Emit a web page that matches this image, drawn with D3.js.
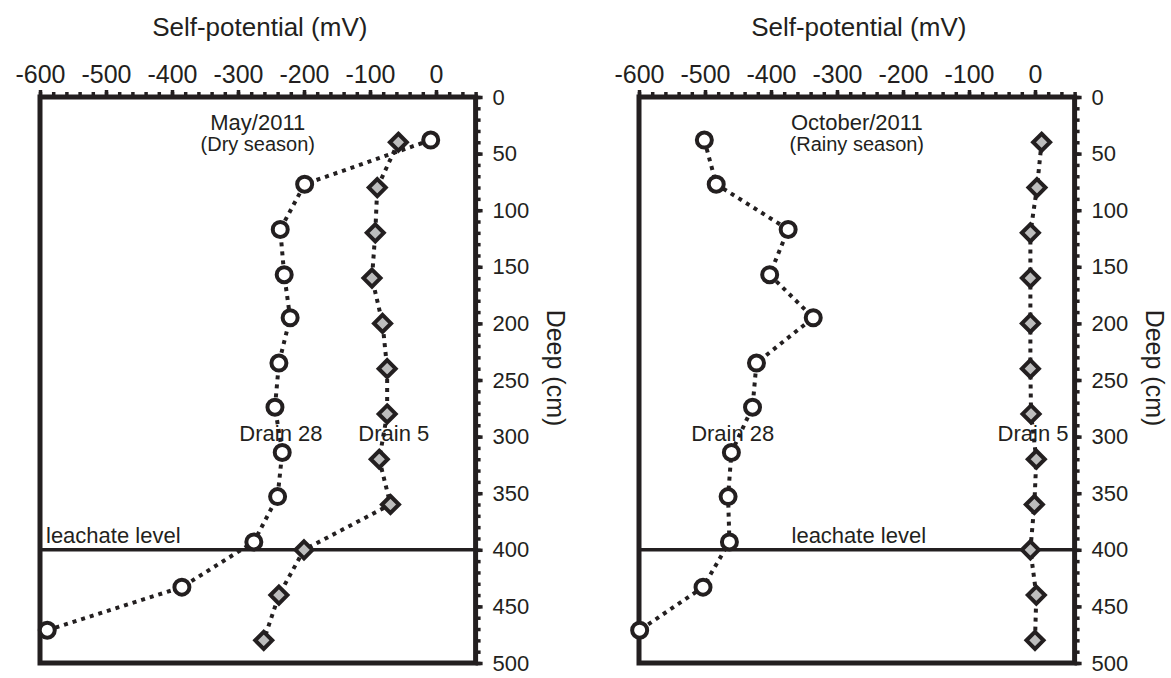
<!DOCTYPE html>
<html>
<head>
<meta charset="utf-8">
<script src="https://cdn.jsdelivr.net/npm/d3@7"></script>
<style>
  body { margin: 0; background: #fff; }
  text { font-family: "Liberation Sans", Arial, sans-serif; fill: #231f20; }
</style>
</head>
<body>
<svg id="chart" width="1171" height="678"></svg>
<script>
// depths (cm) of the readings
var depthDrain5 = [40, 80, 120, 160, 200, 240, 280, 320, 360, 400, 440, 480];
var depthDrain28 = [38, 77, 117, 157, 195, 235, 274, 314, 353, 393, 433, 471];
// self-potential (mV), May/2011
var dryDrain28 = [-8, -199, -236, -230, -221, -238, -244, -233, -240, -276, -385, -589];
var dryDrain5 = [-57, -89, -92, -97, -81, -74, -74, -86, -69, -200, -238, -261];
// self-potential (mV), October/2011
var rainyDrain28 = [-501, -483, -374, -402, -336, -422, -428, -460, -465, -463, -503, -599];
var rainyDrain5 = [10, 3, -7, -7, -7, -7, -6, 2, -1, -7, 2, 0];
// axis ticks
var spTicks = [-600, -500, -400, -300, -200, -100, 0];
var depthTicks = [0, 50, 100, 150, 200, 250, 300, 350, 400, 450, 500];
var leachateDepth = 400;

var ink = "#231f20";
var svg = d3.select("#chart");

var y = d3.scaleLinear().domain([0, 500]).range([97, 663]);

var panels = [
  { left: 40, title: "May/2011", season: "(Dry season)", d28: dryDrain28, d5: dryDrain5,
    lab28: -235, lab5: -64, leachX: 6, leachAnchor: "start" },
  { left: 639, title: "October/2011", season: "(Rainy season)", d28: rainyDrain28, d5: rainyDrain5,
    lab28: -458, lab5: -3, leachX: null, leachAnchor: "middle" }
];

panels.forEach(function(p) {
  var x = d3.scaleLinear().domain([-600, 60]).range([p.left, p.left + 435.6]);
  var g = svg.append("g");
  var x0 = x.range()[0], x1 = x.range()[1];

  // top ruler: minor then major ticks
  var minor = g.append("g").attr("transform", "translate(0," + y(0) + ")")
    .call(d3.axisTop(x).tickValues(d3.range(-600, 61, 20)).tickSize(5).tickFormat(""));
  var major = g.append("g").attr("transform", "translate(0," + y(0) + ")")
    .call(d3.axisTop(x).tickValues(spTicks).tickSize(7).tickPadding(7).tickFormat(d3.format("d")));
  // right ruler
  var rminor = g.append("g").attr("transform", "translate(" + x1 + ",0)")
    .call(d3.axisRight(y).tickValues(d3.range(0, 501, 10)).tickSize(5).tickFormat(""));
  var rmajor = g.append("g").attr("transform", "translate(" + x1 + ",0)")
    .call(d3.axisRight(y).tickValues(depthTicks).tickSize(7).tickPadding(10));
  [minor, major, rminor, rmajor].forEach(function(a) {
    a.select(".domain").remove();
    a.selectAll("line").attr("stroke", ink).attr("stroke-width", 3.5);
  });
  major.selectAll("text").style("font-size", "25px").attr("fill", ink)
    .text(function(d) { return d === 0 ? "0" : "-" + Math.abs(d); });
  rmajor.selectAll("text").style("font-size", "22px").attr("fill", ink).attr("text-anchor", "start");

  // frame
  g.append("rect").attr("x", x0).attr("y", y(0)).attr("width", x1 - x0).attr("height", y(500) - y(0))
    .attr("fill", "none").attr("stroke", ink).attr("stroke-width", 5);

  // leachate level
  g.append("line").attr("x1", x0).attr("x2", x1).attr("y1", y(leachateDepth)).attr("y2", y(leachateDepth))
    .attr("stroke", ink).attr("stroke-width", 3.5);
  g.append("text")
    .attr("x", p.leachX === null ? (x0 + x1) / 2 + 2 : x0 + p.leachX)
    .attr("y", y(leachateDepth) - 7)
    .attr("text-anchor", p.leachAnchor).style("font-size", "22px").text("leachate level");

  // titles
  g.append("text").attr("x", (x0 + x1) / 2 + 2).attr("y", 36).attr("text-anchor", "middle")
    .style("font-size", "26px").text("Self-potential (mV)");
  g.append("text").attr("x", (x0 + x1) / 2).attr("y", 130).attr("text-anchor", "middle")
    .style("font-size", "22px").text(p.title);
  g.append("text").attr("x", (x0 + x1) / 2).attr("y", 151).attr("text-anchor", "middle")
    .style("font-size", "20px").text(p.season);
  g.append("text").attr("transform", "translate(" + (x1 + 80) + "," + 368 + ") rotate(90)")
    .attr("text-anchor", "middle").attr("dominant-baseline", "central")
    .style("font-size", "25px").text("Deep (cm)");

  // dotted profiles
  var line = d3.line().x(function(d) { return x(d[0]); }).y(function(d) { return y(d[1]); });
  var s28 = p.d28.map(function(v, i) { return [v, depthDrain28[i]]; });
  var s5 = p.d5.map(function(v, i) { return [v, depthDrain5[i]]; });
  [s28, s5].forEach(function(s) {
    g.append("path").attr("d", line(s)).attr("fill", "none").attr("stroke", ink)
      .attr("stroke-width", 4).attr("stroke-dasharray", "4,5");
  });

  g.selectAll(".d5").data(s5).enter().append("path")
    .attr("transform", function(d) { return "translate(" + x(d[0]) + "," + y(d[1]) + ")"; })
    .attr("d", "M0,-8.5L8.5,0L0,8.5L-8.5,0Z")
    .attr("fill", "#bdbdbd").attr("stroke", ink).attr("stroke-width", 4);
  g.selectAll(".d28").data(s28).enter().append("circle")
    .attr("cx", function(d) { return x(d[0]); }).attr("cy", function(d) { return y(d[1]); })
    .attr("r", 7.5).attr("fill", "#fff").attr("stroke", ink).attr("stroke-width", 4);

  g.append("text").attr("x", x(p.lab28)).attr("y", 441).attr("text-anchor", "middle")
    .style("font-size", "22px").text("Drain 28");
  g.append("text").attr("x", x(p.lab5)).attr("y", 441).attr("text-anchor", "middle")
    .style("font-size", "22px").text("Drain 5");
});
</script>
</body>
</html>
